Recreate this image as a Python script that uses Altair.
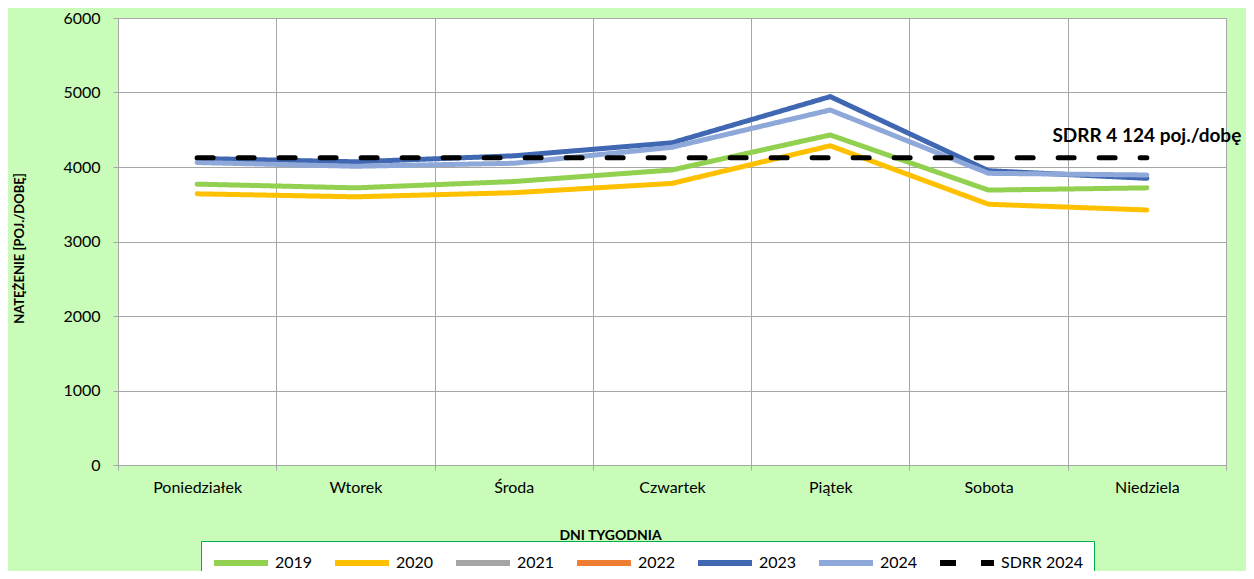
import altair as alt
import pandas as pd

days = ["Poniedziałek", "Wtorek", "Środa", "Czwartek", "Piątek", "Sobota", "Niedziela"]
series_all = ["2019", "2020", "2021", "2022", "2023", "2024", "SDRR 2024"]
colors = ["#92D050", "#FFC000", "#A5A5A5", "#ED7D31", "#4068B2", "#8FA8DA", "#000000"]

v2019 = [3770, 3720, 3805, 3960, 4430, 3690, 3720]
v2020 = [3640, 3600, 3655, 3780, 4285, 3500, 3423]
v2023 = [4115, 4070, 4150, 4325, 4945, 3950, 3848]
v2024 = [4060, 4010, 4050, 4265, 4765, 3915, 3893]
sdrr_value = 4124
sdrr_label = "SDRR 4 124 poj./dobę"
y_ticks = [0, 1000, 2000, 3000, 4000, 5000, 6000]

rows = []
for name, vals in [("2019", v2019), ("2020", v2020), ("2023", v2023),
                   ("2024", v2024), ("SDRR 2024", [sdrr_value] * len(days))]:
    for i, (d, v) in enumerate(zip(days, vals)):
        rows.append({"day": d, "value": v, "series": name, "idx": i})
df = pd.DataFrame(rows)
ann = pd.DataFrame([{"day": days[-1], "value": sdrr_value, "label": sdrr_label}])

FONT = "Lato"
GRID = "#A6A6A6"

x_enc = alt.X(
    "day:N", sort=days, bandPosition=0.5,
    scale=alt.Scale(type="band", paddingInner=0, paddingOuter=0),
    axis=alt.Axis(
        title="DNI TYGODNIA", tickBand="extent", grid=True, gridColor=GRID,
        domainColor=GRID, tickColor=GRID, tickSize=5, labelPadding=9,
        labelFontSize=16, labelFont=FONT, labelColor="#000000", labelAngle=0,
        titleFont=FONT, titleFontSize=14, titleFontWeight="bold", titleColor="#000000",
        titleX=492, titleY=70, titleBaseline="middle", titleAnchor="start", titleAlign="center",
    ),
)
y_enc = alt.Y(
    "value:Q",
    scale=alt.Scale(domain=[0, 6000], nice=False, zero=True),
    axis=alt.Axis(
        title="NATĘŻENIE [POJ./DOBĘ]", values=y_ticks, format="d", grid=True, gridColor=GRID,
        domainColor=GRID, tickColor=GRID, tickSize=5, labelPadding=13,
        labelFontSize=16, labelFont=FONT, labelColor="#000000",
        titleFont=FONT, titleFontSize=13, titleFontWeight="bold", titleColor="#000000",
        titleAngle=-90, titleX=-99, titleY=230, titleBaseline="middle", titleAlign="center",
    ),
)

legend = alt.Legend(
    title=None, orient="none", legendX=83, legendY=523, direction="horizontal",
    columns=7, symbolType="M-1,0L5,0", symbolSize=324, symbolStrokeWidth=6,
    labelFont=FONT, labelFontSize=16, labelColor="#000000", labelOffset=40,
    columnPadding=10, padding=10, fillColor="#FFFFFF", strokeColor="#00B050",
    labelLimit=200,
)

lines = alt.Chart(df).mark_line(strokeWidth=5, strokeCap="round", strokeJoin="round").encode(
    x=x_enc,
    y=y_enc,
    color=alt.Color("series:N", scale=alt.Scale(domain=series_all, range=colors), legend=legend),
    strokeDash=alt.StrokeDash(
        "series:N",
        scale=alt.Scale(domain=series_all, range=[[1, 0]] * 6 + [[16, 25]]),
        legend=legend,
    ),
    order=alt.Order("idx:Q"),
)

text = alt.Chart(ann).mark_text(
    font=FONT, fontSize=19, fontWeight="bold", color="#000000",
    dy=-16, baseline="alphabetic", align="center",
).encode(
    x=alt.X("day:N", sort=days, bandPosition=0.5),
    y=alt.Y("value:Q"),
    text="label:N",
)

chart = alt.layer(lines, text).properties(
    width=1108, height=447,
    background="#C8FCB8",
    padding={"left": 110, "top": 10, "right": 20, "bottom": 106},
    autosize=alt.AutoSizeParams(type="none"),
).configure_view(stroke=None, fill="#FFFFFF")

chart.save("out.html", embed_options={"renderer": "svg", "actions": False})
